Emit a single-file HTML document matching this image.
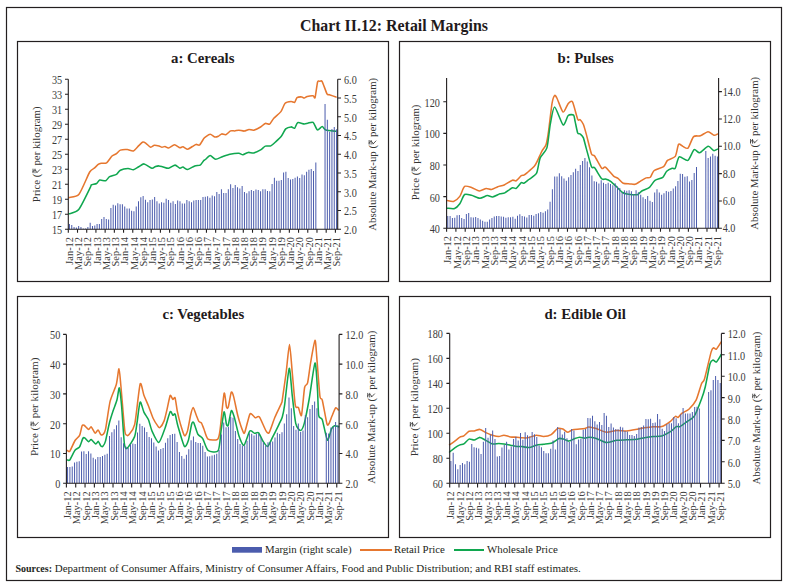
<!DOCTYPE html>
<html><head><meta charset="utf-8"><style>
html,body{margin:0;padding:0;background:#fff;}
body{width:787px;height:587px;overflow:hidden;position:relative;}
svg{position:absolute;left:0;top:0;}
</style></head><body>
<svg width="787" height="587" viewBox="0 0 787 587" font-family="'Liberation Serif', serif">

<rect x="6.5" y="7.5" width="775" height="573" fill="none" stroke="#231f20" stroke-width="1.2"/>
<text x="394" y="30.5" text-anchor="middle" font-size="15.9" font-weight="bold" fill="#1f1a1c">Chart II.12: Retail Margins</text>
<rect x="17.5" y="41.5" width="371" height="240" fill="none" stroke="#231f20" stroke-width="1.2"/>
<rect x="399.5" y="41.5" width="371" height="240" fill="none" stroke="#231f20" stroke-width="1.2"/>
<rect x="17.5" y="296.5" width="371" height="241" fill="none" stroke="#231f20" stroke-width="1.2"/>
<rect x="399.5" y="296.5" width="371" height="241" fill="none" stroke="#231f20" stroke-width="1.2"/>
<text x="202.8" y="62.9" text-anchor="middle" font-size="14.8" font-weight="bold" fill="#1f1a1c">a: Cereals</text>
<path d="M69.1 197.6C70.25 197.2 76.6 197.19 79 194.2C81.4 191.21 87.92 175.03 89.7 172C91.48 168.97 93.31 169.09 94.3 168.2C95.29 167.31 97.39 164.97 98.2 164.4C99.01 163.83 100.22 163.49 101.2 163.3C102.18 163.11 105.34 163.65 106.6 162.8C107.86 161.95 110.84 157.07 112 156C113.16 154.93 115.52 154.29 116.5 153.6C117.48 152.91 119.14 150.58 120.4 150.1C121.66 149.62 125.78 149.41 127.3 149.5C128.82 149.59 132.06 151.36 133.4 150.9C134.74 150.44 137.69 146.63 138.8 145.6C139.91 144.57 142.07 142.37 142.9 142.1C143.73 141.83 144.99 142.71 145.9 143.3C146.81 143.9 149.72 146.97 150.7 147.2C151.68 147.43 153.33 145.44 154.3 145.3C155.27 145.16 158.1 145.78 159 146C159.9 146.22 161.3 147.14 162 147.2C162.7 147.26 164.23 146.41 165 146.5C165.77 146.59 167.49 148.2 168.6 148C169.71 147.8 173.18 144.84 174.5 144.8C175.82 144.77 178.92 147.47 179.9 147.7C180.88 147.93 181.99 146.62 182.9 146.8C183.81 146.98 186.59 149.23 187.7 149.2C188.81 149.16 191.43 147.06 192.4 146.5C193.37 145.94 195.16 144.58 196 144.4C196.84 144.22 198.69 145.69 199.6 145C200.51 144.31 203.12 139.43 203.8 138.5C204.48 137.57 204.65 137.49 205.4 137C206.15 136.51 209.09 134.3 210.2 134.3C211.31 134.3 213.96 136.77 214.9 137C215.84 137.23 217.51 136.66 218.3 136.3C219.09 135.94 220.82 134.09 221.7 133.9C222.57 133.71 224.76 135.05 225.8 134.7C226.84 134.35 229.56 131.34 230.6 130.9C231.64 130.46 233.74 130.98 234.7 130.9C235.66 130.82 237.69 130.18 238.8 130.2C239.91 130.22 243.01 131.18 244.2 131.1C245.39 131.02 247.89 129.6 249 129.5C250.11 129.4 252.35 130.49 253.7 130.2C255.05 129.91 259.25 127.79 260.6 127C261.95 126.21 264.25 123.73 265.3 123.4C266.35 123.07 268.61 124.81 269.6 124.2C270.59 123.59 272.48 119.67 273.8 118.2C275.12 116.73 279.58 113.34 280.9 111.6C282.22 109.86 283.91 104.48 285.1 103.3C286.29 102.12 289.99 101.61 291.1 101.5C292.21 101.39 293.91 102.84 294.6 102.4C295.29 101.96 296.16 98.34 297 97.7C297.84 97.06 300.96 96.85 301.8 96.9C302.64 96.95 303.57 98.15 304.2 98.1C304.83 98.05 306.16 96.77 307.2 96.5C308.24 96.23 312.18 95.69 313.1 95.8C314.02 95.91 314.58 99.01 315.1 97.4C315.62 95.79 317.05 83.88 317.6 82C318.15 80.12 319.26 81.35 319.8 81.3C320.34 81.25 321.36 80.13 322.2 81.6C323.04 83.07 326.16 92.37 327 93.9C327.84 95.43 328.35 94.33 329.4 94.7C330.45 95.07 335.23 96.82 336 97.1" fill="none" stroke="#e6772f" stroke-width="1.55" stroke-linejoin="round" stroke-linecap="round"/>
<path d="M69.1 213.8C70.22 213.31 76.23 212.68 78.7 209.6C81.17 206.52 88.83 190.27 90.3 187.4C91.77 184.53 90.56 185.46 91.3 185C92.03 184.54 95.62 184.07 96.6 183.5C97.58 182.93 98.63 180.43 99.7 180.1C100.77 179.77 104.64 181.11 105.8 180.7C106.95 180.29 108.35 177.35 109.6 176.6C110.85 175.85 115.24 175.05 116.5 174.3C117.76 173.55 119.06 170.88 120.4 170.2C121.74 169.52 126.48 168.56 128 168.5C129.52 168.44 132.14 169.91 133.4 169.7C134.66 169.49 137.55 167.38 138.8 166.7C140.05 166.02 142.57 163.71 144.1 163.9C145.63 164.09 150.57 168 151.9 168.3C153.23 168.6 154.67 166.78 155.5 166.5C156.33 166.22 158.17 165.88 159 165.9C159.83 165.92 161.48 166.42 162.6 166.7C163.72 166.98 167.14 168.49 168.6 168.3C170.06 168.11 173.78 165.1 175.1 165.1C176.42 165.1 178.99 168.07 179.9 168.3C180.81 168.53 181.99 166.96 182.9 167.1C183.81 167.24 186.31 169.64 187.7 169.5C189.09 169.36 193.34 166.41 194.8 165.9C196.26 165.39 199.15 165.73 200.2 165.1C201.25 164.47 203.19 161.15 203.8 160.5C204.41 159.85 204.65 160.07 205.4 159.5C206.15 158.93 209.01 155.63 210.2 155.6C211.39 155.56 214.18 159.07 215.6 159.2C217.02 159.33 220.73 157.27 222.4 156.7C224.07 156.13 227.99 154.7 229.9 154.3C231.81 153.9 237.28 153.25 238.8 153.3C240.32 153.35 241.79 154.8 242.9 154.7C244.01 154.59 247.04 152.61 248.3 152.4C249.56 152.19 252.26 153.19 253.7 152.9C255.13 152.61 259.25 150.69 260.6 149.9C261.95 149.11 264.11 146.57 265.3 146.1C266.49 145.63 269.61 146.38 270.8 145.9C271.99 145.42 274.25 143.14 275.5 142C276.75 140.86 280.31 137.63 281.5 136.1C282.69 134.57 284.58 129.97 285.7 128.9C286.82 127.83 290.06 126.97 291.1 126.9C292.14 126.83 293.84 128.79 294.6 128.3C295.36 127.81 296.48 123.21 297.6 122.7C298.72 122.19 303.01 123.84 304.2 123.9C305.39 123.96 306.76 123.38 307.8 123.2C308.84 123.03 311.98 121.62 313.1 122.4C314.22 123.18 316.34 129.41 317.4 129.9C318.46 130.39 321.22 126.58 322.2 126.6C323.18 126.62 324.19 129.55 325.8 130.1C327.41 130.65 334.81 131.16 336 131.3" fill="none" stroke="#10a74f" stroke-width="1.55" stroke-linejoin="round" stroke-linecap="round"/>
<path d="M68.95 229.3V224.1h1.0V229.3zM71.25 229.3V224.9h1.0V229.3zM73.56 229.3V227h1.0V229.3zM75.86 229.3V227.5h1.0V229.3zM78.16 229.3V226h1.0V229.3zM80.46 229.3V227h1.0V229.3zM82.77 229.3V228.6h1.0V229.3zM85.07 229.3V228.6h1.0V229.3zM87.37 229.3V227h1.0V229.3zM89.67 229.3V222.8h1.0V229.3zM91.98 229.3V226h1.0V229.3zM94.28 229.3V225.4h1.0V229.3zM96.58 229.3V224h1.0V229.3zM98.88 229.3V224h1.0V229.3zM101.19 229.3V219.1h1.0V229.3zM103.49 229.3V217h1.0V229.3zM105.79 229.3V219.1h1.0V229.3zM108.09 229.3V219.6h1.0V229.3zM110.4 229.3V208h1.0V229.3zM112.7 229.3V204.8h1.0V229.3zM115 229.3V205.4h1.0V229.3zM117.31 229.3V203.3h1.0V229.3zM119.61 229.3V204.3h1.0V229.3zM121.91 229.3V204.3h1.0V229.3zM124.21 229.3V206.4h1.0V229.3zM126.52 229.3V208.5h1.0V229.3zM128.82 229.3V208.5h1.0V229.3zM131.12 229.3V210.7h1.0V229.3zM133.42 229.3V211.2h1.0V229.3zM135.73 229.3V206.4h1.0V229.3zM138.03 229.3V201.2h1.0V229.3zM140.33 229.3V197.2h1.0V229.3zM142.63 229.3V195.9h1.0V229.3zM144.94 229.3V199.8h1.0V229.3zM147.24 229.3V202.2h1.0V229.3zM149.54 229.3V200.1h1.0V229.3zM151.84 229.3V199.4h1.0V229.3zM154.15 229.3V196.9h1.0V229.3zM156.45 229.3V201.2h1.0V229.3zM158.75 229.3V203.6h1.0V229.3zM161.05 229.3V202.2h1.0V229.3zM163.36 229.3V202.7h1.0V229.3zM165.66 229.3V198.7h1.0V229.3zM167.96 229.3V200.1h1.0V229.3zM170.26 229.3V202.7h1.0V229.3zM172.57 229.3V201.2h1.0V229.3zM174.87 229.3V204h1.0V229.3zM177.17 229.3V200.6h1.0V229.3zM179.47 229.3V201.2h1.0V229.3zM181.78 229.3V203.6h1.0V229.3zM184.08 229.3V203.6h1.0V229.3zM186.38 229.3V200.1h1.0V229.3zM188.68 229.3V201.2h1.0V229.3zM190.99 229.3V202.2h1.0V229.3zM193.29 229.3V200.4h1.0V229.3zM195.59 229.3V199.9h1.0V229.3zM197.89 229.3V200.1h1.0V229.3zM200.2 229.3V199.9h1.0V229.3zM202.5 229.3V196.9h1.0V229.3zM204.8 229.3V196.8h1.0V229.3zM207.11 229.3V196.2h1.0V229.3zM209.41 229.3V197.8h1.0V229.3zM211.71 229.3V195.6h1.0V229.3zM214.01 229.3V196.2h1.0V229.3zM216.32 229.3V192.1h1.0V229.3zM218.62 229.3V194.1h1.0V229.3zM220.92 229.3V189.2h1.0V229.3zM223.22 229.3V192.9h1.0V229.3zM225.53 229.3V192.9h1.0V229.3zM227.83 229.3V189.2h1.0V229.3zM230.13 229.3V184.3h1.0V229.3zM232.43 229.3V188h1.0V229.3zM234.74 229.3V185.1h1.0V229.3zM237.04 229.3V187.2h1.0V229.3zM239.34 229.3V188.4h1.0V229.3zM241.64 229.3V186h1.0V229.3zM243.95 229.3V192.1h1.0V229.3zM246.25 229.3V193.3h1.0V229.3zM248.55 229.3V191.3h1.0V229.3zM250.85 229.3V190h1.0V229.3zM253.16 229.3V190.9h1.0V229.3zM255.46 229.3V189.4h1.0V229.3zM257.76 229.3V190h1.0V229.3zM260.06 229.3V191.3h1.0V229.3zM262.37 229.3V189.2h1.0V229.3zM264.67 229.3V189.2h1.0V229.3zM266.97 229.3V190.9h1.0V229.3zM269.27 229.3V191.3h1.0V229.3zM271.58 229.3V184h1.0V229.3zM273.88 229.3V177.7h1.0V229.3zM276.18 229.3V180.7h1.0V229.3zM278.48 229.3V180.7h1.0V229.3zM280.79 229.3V180h1.0V229.3zM283.09 229.3V172.6h1.0V229.3zM285.39 229.3V171.7h1.0V229.3zM287.69 229.3V177.9h1.0V229.3zM290 229.3V179.6h1.0V229.3zM292.3 229.3V179.1h1.0V229.3zM294.6 229.3V177.7h1.0V229.3zM296.91 229.3V176.5h1.0V229.3zM299.21 229.3V177.9h1.0V229.3zM301.51 229.3V174.5h1.0V229.3zM303.81 229.3V175.2h1.0V229.3zM306.12 229.3V171.7h1.0V229.3zM308.42 229.3V169.8h1.0V229.3zM310.72 229.3V168.9h1.0V229.3zM313.02 229.3V171h1.0V229.3zM315.33 229.3V162.6h1.0V229.3zM324.54 229.3V103.9h1.0V229.3zM326.84 229.3V119.7h1.0V229.3zM329.14 229.3V131.7h1.0V229.3zM331.44 229.3V128.9h1.0V229.3zM333.75 229.3V126.9h1.0V229.3zM336.05 229.3V129.3h1.0V229.3z" fill="#4b5cad"/>
<path d="M68.3 79.3V229.3H337.7V79.3" fill="none" stroke="#231f20" stroke-width="1.1"/>
<text transform="translate(62.2 234.2) scale(0.88 1)" text-anchor="end" font-size="11.6" fill="#3a3a3a">15</text>
<text transform="translate(62.2 219.2) scale(0.88 1)" text-anchor="end" font-size="11.6" fill="#3a3a3a">17</text>
<text transform="translate(62.2 204.2) scale(0.88 1)" text-anchor="end" font-size="11.6" fill="#3a3a3a">19</text>
<text transform="translate(62.2 189.2) scale(0.88 1)" text-anchor="end" font-size="11.6" fill="#3a3a3a">21</text>
<text transform="translate(62.2 174.2) scale(0.88 1)" text-anchor="end" font-size="11.6" fill="#3a3a3a">23</text>
<text transform="translate(62.2 159.2) scale(0.88 1)" text-anchor="end" font-size="11.6" fill="#3a3a3a">25</text>
<text transform="translate(62.2 144.2) scale(0.88 1)" text-anchor="end" font-size="11.6" fill="#3a3a3a">27</text>
<text transform="translate(62.2 129.2) scale(0.88 1)" text-anchor="end" font-size="11.6" fill="#3a3a3a">29</text>
<text transform="translate(62.2 114.2) scale(0.88 1)" text-anchor="end" font-size="11.6" fill="#3a3a3a">31</text>
<text transform="translate(62.2 99.2) scale(0.88 1)" text-anchor="end" font-size="11.6" fill="#3a3a3a">33</text>
<text transform="translate(62.2 84.2) scale(0.88 1)" text-anchor="end" font-size="11.6" fill="#3a3a3a">35</text>
<text transform="translate(344 234.2) scale(0.88 1)" font-size="11.6" fill="#3a3a3a">2.0</text>
<text transform="translate(344 215.45) scale(0.88 1)" font-size="11.6" fill="#3a3a3a">2.5</text>
<text transform="translate(344 196.7) scale(0.88 1)" font-size="11.6" fill="#3a3a3a">3.0</text>
<text transform="translate(344 177.95) scale(0.88 1)" font-size="11.6" fill="#3a3a3a">3.5</text>
<text transform="translate(344 159.2) scale(0.88 1)" font-size="11.6" fill="#3a3a3a">4.0</text>
<text transform="translate(344 140.45) scale(0.88 1)" font-size="11.6" fill="#3a3a3a">4.5</text>
<text transform="translate(344 121.7) scale(0.88 1)" font-size="11.6" fill="#3a3a3a">5.0</text>
<text transform="translate(344 102.95) scale(0.88 1)" font-size="11.6" fill="#3a3a3a">5.5</text>
<text transform="translate(344 84.2) scale(0.88 1)" font-size="11.6" fill="#3a3a3a">6.0</text>
<path d="M65.0 229.3H68.3M65.0 214.3H68.3M65.0 199.3H68.3M65.0 184.3H68.3M65.0 169.3H68.3M65.0 154.3H68.3M65.0 139.3H68.3M65.0 124.3H68.3M65.0 109.3H68.3M65.0 94.3H68.3M65.0 79.3H68.3M337.7 229.3H341.0M337.7 210.55H341.0M337.7 191.8H341.0M337.7 173.05H341.0M337.7 154.3H341.0M337.7 135.55H341.0M337.7 116.8H341.0M337.7 98.05H341.0M337.7 79.3H341.0M68.3 229.3V232.8M77.51 229.3V232.8M86.72 229.3V232.8M95.93 229.3V232.8M105.14 229.3V232.8M114.35 229.3V232.8M123.56 229.3V232.8M132.77 229.3V232.8M141.98 229.3V232.8M151.19 229.3V232.8M160.4 229.3V232.8M169.61 229.3V232.8M178.82 229.3V232.8M188.03 229.3V232.8M197.24 229.3V232.8M206.45 229.3V232.8M215.66 229.3V232.8M224.87 229.3V232.8M234.08 229.3V232.8M243.29 229.3V232.8M252.51 229.3V232.8M261.72 229.3V232.8M270.93 229.3V232.8M280.14 229.3V232.8M289.35 229.3V232.8M298.56 229.3V232.8M307.77 229.3V232.8M316.98 229.3V232.8M326.19 229.3V232.8M335.4 229.3V232.8" stroke="#231f20" stroke-width="1.1" fill="none"/>
<text transform="translate(73.05 237) rotate(-90)" text-anchor="end" font-size="10.4" fill="#3a3a3a">Jan-12</text>
<text transform="translate(82.26 237) rotate(-90)" text-anchor="end" font-size="10.4" fill="#3a3a3a">May-12</text>
<text transform="translate(91.47 237) rotate(-90)" text-anchor="end" font-size="10.4" fill="#3a3a3a">Sep-12</text>
<text transform="translate(100.68 237) rotate(-90)" text-anchor="end" font-size="10.4" fill="#3a3a3a">Jan-13</text>
<text transform="translate(109.89 237) rotate(-90)" text-anchor="end" font-size="10.4" fill="#3a3a3a">May-13</text>
<text transform="translate(119.1 237) rotate(-90)" text-anchor="end" font-size="10.4" fill="#3a3a3a">Sep-13</text>
<text transform="translate(128.31 237) rotate(-90)" text-anchor="end" font-size="10.4" fill="#3a3a3a">Jan-14</text>
<text transform="translate(137.52 237) rotate(-90)" text-anchor="end" font-size="10.4" fill="#3a3a3a">May-14</text>
<text transform="translate(146.73 237) rotate(-90)" text-anchor="end" font-size="10.4" fill="#3a3a3a">Sep-14</text>
<text transform="translate(155.94 237) rotate(-90)" text-anchor="end" font-size="10.4" fill="#3a3a3a">Jan-15</text>
<text transform="translate(165.15 237) rotate(-90)" text-anchor="end" font-size="10.4" fill="#3a3a3a">May-15</text>
<text transform="translate(174.36 237) rotate(-90)" text-anchor="end" font-size="10.4" fill="#3a3a3a">Sep-15</text>
<text transform="translate(183.57 237) rotate(-90)" text-anchor="end" font-size="10.4" fill="#3a3a3a">Jan-16</text>
<text transform="translate(192.78 237) rotate(-90)" text-anchor="end" font-size="10.4" fill="#3a3a3a">May-16</text>
<text transform="translate(201.99 237) rotate(-90)" text-anchor="end" font-size="10.4" fill="#3a3a3a">Sep-16</text>
<text transform="translate(211.21 237) rotate(-90)" text-anchor="end" font-size="10.4" fill="#3a3a3a">Jan-17</text>
<text transform="translate(220.42 237) rotate(-90)" text-anchor="end" font-size="10.4" fill="#3a3a3a">May-17</text>
<text transform="translate(229.63 237) rotate(-90)" text-anchor="end" font-size="10.4" fill="#3a3a3a">Sep-17</text>
<text transform="translate(238.84 237) rotate(-90)" text-anchor="end" font-size="10.4" fill="#3a3a3a">Jan-18</text>
<text transform="translate(248.05 237) rotate(-90)" text-anchor="end" font-size="10.4" fill="#3a3a3a">May-18</text>
<text transform="translate(257.26 237) rotate(-90)" text-anchor="end" font-size="10.4" fill="#3a3a3a">Sep-18</text>
<text transform="translate(266.47 237) rotate(-90)" text-anchor="end" font-size="10.4" fill="#3a3a3a">Jan-19</text>
<text transform="translate(275.68 237) rotate(-90)" text-anchor="end" font-size="10.4" fill="#3a3a3a">May-19</text>
<text transform="translate(284.89 237) rotate(-90)" text-anchor="end" font-size="10.4" fill="#3a3a3a">Sep-19</text>
<text transform="translate(294.1 237) rotate(-90)" text-anchor="end" font-size="10.4" fill="#3a3a3a">Jan-20</text>
<text transform="translate(303.31 237) rotate(-90)" text-anchor="end" font-size="10.4" fill="#3a3a3a">May-20</text>
<text transform="translate(312.52 237) rotate(-90)" text-anchor="end" font-size="10.4" fill="#3a3a3a">Sep-20</text>
<text transform="translate(321.73 237) rotate(-90)" text-anchor="end" font-size="10.4" fill="#3a3a3a">Jan-21</text>
<text transform="translate(330.94 237) rotate(-90)" text-anchor="end" font-size="10.4" fill="#3a3a3a">May-21</text>
<text transform="translate(340.15 237) rotate(-90)" text-anchor="end" font-size="10.4" fill="#3a3a3a">Sep-21</text>
<g transform="translate(40.1 154.3) rotate(-90)"><text x="-47.83" y="0" font-size="10.8" fill="#333" xml:space="preserve">Price (</text><path d="M-18.91 -7.07L-14.38 -7.07M-18.91 -5.08L-14.38 -5.08M-17.94 -7.07C-15.03 -7.07 -15.03 -3.24 -18.48 -3.24L-15.03 0" fill="none" stroke="#333" stroke-width="0.81"/><text x="-13.95" y="0" font-size="10.8" fill="#333" xml:space="preserve"> per kilogram)</text></g>
<g transform="translate(376.2 154.3) rotate(-90)"><text x="-76.48" y="0" font-size="10.8" fill="#333" xml:space="preserve">Absolute Mark-up (</text><path d="M9.73 -7.07L14.27 -7.07M9.73 -5.08L14.27 -5.08M10.71 -7.07C13.62 -7.07 13.62 -3.24 10.17 -3.24L13.62 0" fill="none" stroke="#333" stroke-width="0.81"/><text x="14.7" y="0" font-size="10.8" fill="#333" xml:space="preserve"> per kilogram)</text></g>
<text x="585.6" y="62.9" text-anchor="middle" font-size="14.8" font-weight="bold" fill="#1f1a1c">b: Pulses</text>
<path d="M447.2 200.6C447.94 200.7 452.03 201.99 453.5 201.5C454.97 201.01 458.5 198.16 459.8 196.4C461.1 194.64 463.18 187.42 464.6 186.4C466.02 185.38 470.27 187.17 472 187.7C473.73 188.22 477.74 190.81 479.4 190.9C481.06 190.99 484.79 188.66 486.2 188.5C487.61 188.34 490.15 189.71 491.5 189.5C492.85 189.29 496.32 187.22 497.8 186.7C499.28 186.17 502.5 185.76 504.2 185C505.9 184.24 511 180.69 512.4 180.2C513.8 179.71 515.16 181.33 516.2 180.8C517.24 180.28 520.4 176.36 521.3 175.7C522.2 175.03 523.2 175.46 523.9 175.1C524.6 174.74 526.11 173.59 527.3 172.6C528.49 171.61 532.91 167.99 534.1 166.6C535.29 165.21 536.6 162.48 537.5 160.7C538.4 158.91 540.8 153.19 541.8 151.3C542.8 149.41 545.31 146.88 546.1 144.5C546.89 142.12 547.91 135.67 548.6 130.9C549.29 126.13 551.3 107.73 552 103.6C552.7 99.47 554 96.09 554.6 95.5C555.2 94.91 556.11 96.56 557.1 98.5C558.09 100.44 561.81 111.5 563.1 112.1C564.39 112.69 567.1 104.79 568.2 103.6C569.3 102.41 571.39 100.08 572.5 101.9C573.61 103.72 576.8 117.12 577.7 119.2C578.6 121.28 579.55 119.11 580.2 119.7C580.85 120.3 582.58 122.56 583.3 124.3C584.02 126.04 585.44 131.13 586.4 134.6C587.36 138.06 590.54 151.5 591.5 154C592.46 156.5 593.41 154.33 594.6 156C595.79 157.67 600.44 166.99 601.7 168.3C602.96 169.61 604.01 166.29 605.4 167.2C606.79 168.11 612.13 174.79 613.6 176.1C615.07 177.41 616.88 177.56 618 178.4C619.12 179.24 621.81 182.66 623.2 183.3C624.59 183.94 628.51 183.78 629.9 183.9C631.29 184.02 633.89 184.6 635.1 184.3C636.31 184 639 182.05 640.3 181.3C641.59 180.55 645.03 178.37 646.2 177.9C647.37 177.43 649.37 178.16 650.3 177.3C651.23 176.44 652.65 171.75 654.2 170.5C655.75 169.25 662.05 167.78 663.6 166.6C665.15 165.42 666.13 161.59 667.5 160.4C668.87 159.21 674 158.28 675.3 156.4C676.59 154.52 677.71 145.47 678.6 144.3C679.49 143.13 681.8 145.96 682.9 146.4C684 146.84 686.75 149.24 688 148.1C689.25 146.96 692.15 138.03 693.6 136.6C695.05 135.16 698.72 136.37 700.4 135.8C702.08 135.23 706.41 131.76 708 131.7C709.59 131.64 712.9 135.02 714 135.3C715.1 135.58 717 134.24 717.4 134.1" fill="none" stroke="#e6772f" stroke-width="1.55" stroke-linejoin="round" stroke-linecap="round"/>
<path d="M447.2 208.2C448.06 208.23 453.13 209.01 454.6 208.5C456.07 207.99 458.63 205.43 459.8 203.8C460.97 202.17 463.24 195.49 464.6 194.5C465.97 193.51 469.72 194.86 471.5 195.3C473.28 195.74 478.06 198.27 479.9 198.3C481.74 198.34 485.82 195.76 487.3 195.6C488.78 195.44 491.12 197.11 492.6 196.9C494.08 196.69 498.58 194.27 500 193.8C501.42 193.33 503.35 193.6 504.8 192.9C506.25 192.2 511.07 188.33 512.4 187.8C513.73 187.28 515.16 189 516.2 188.4C517.24 187.81 520.4 183.29 521.3 182.7C522.2 182.1 523.01 183.67 523.9 183.3C524.79 182.93 527.42 180.68 528.9 179.5C530.38 178.32 535.29 175.7 536.6 173.2C537.91 170.7 538.9 161.05 540.1 158.1C541.3 155.15 545.71 151.87 546.9 147.9C548.09 143.93 549.4 128.87 550.3 124.1C551.2 119.33 553.11 106.91 554.6 107C556.09 107.09 561.51 123.91 563.1 124.9C564.69 125.89 566.98 116.64 568.2 115.5C569.43 114.36 572.8 114.42 573.6 115.1C574.4 115.78 574.62 119.21 575.1 121.3C575.58 123.39 577.11 131.52 577.7 133C578.3 134.48 579.55 133.46 580.2 134C580.85 134.54 582.58 135.86 583.3 137.6C584.02 139.34 585.44 145.49 586.4 148.9C587.36 152.31 590.54 164.59 591.5 166.8C592.46 169.01 593.41 166.4 594.6 167.8C595.79 169.2 600.44 177.48 601.7 178.8C602.96 180.12 604.36 178.81 605.4 179.1C606.44 179.39 609.29 180.4 610.6 181.3C611.91 182.2 615.21 185.49 616.6 186.8C617.99 188.11 621.29 191.66 622.5 192.5C623.71 193.34 625.27 193.74 627 194C628.73 194.26 635.57 195.05 637.3 194.7C639.03 194.35 640.38 191.86 641.8 191C643.22 190.14 647.96 188.54 649.5 187.3C651.04 186.06 653.45 181.57 655 180.4C656.55 179.23 661.43 178.36 662.8 177.3C664.16 176.24 665.6 172.36 666.7 171.3C667.8 170.24 671.2 168.56 672.2 168.2C673.2 167.84 674.48 169.52 675.3 168.2C676.12 166.88 677.73 157.81 679.2 156.9C680.67 155.99 686.16 161.24 687.9 160.4C689.64 159.56 692.74 150.59 694.1 149.7C695.47 148.81 697.96 153.2 699.6 152.8C701.25 152.4 706.56 146.56 708.2 146.3C709.85 146.04 712.6 150.27 713.7 150.6C714.8 150.93 717.14 149.28 717.6 149.1" fill="none" stroke="#10a74f" stroke-width="1.55" stroke-linejoin="round" stroke-linecap="round"/>
<path d="M447.26 228.3V215.9h1.0V228.3zM449.59 228.3V216.1h1.0V228.3zM451.91 228.3V218h1.0V228.3zM454.24 228.3V217.7h1.0V228.3zM456.56 228.3V215.2h1.0V228.3zM458.89 228.3V214.9h1.0V228.3zM461.21 228.3V218h1.0V228.3zM463.54 228.3V219.1h1.0V228.3zM465.86 228.3V214.1h1.0V228.3zM468.19 228.3V213.1h1.0V228.3zM470.51 228.3V217.3h1.0V228.3zM472.84 228.3V217.5h1.0V228.3zM475.16 228.3V217h1.0V228.3zM477.48 228.3V218h1.0V228.3zM479.81 228.3V219.4h1.0V228.3zM482.13 228.3V220.7h1.0V228.3zM484.46 228.3V221.7h1.0V228.3zM486.78 228.3V221.7h1.0V228.3zM489.11 228.3V219.6h1.0V228.3zM491.43 228.3V218h1.0V228.3zM493.76 228.3V216.5h1.0V228.3zM496.08 228.3V215.9h1.0V228.3zM498.41 228.3V215.9h1.0V228.3zM500.73 228.3V216.5h1.0V228.3zM503.06 228.3V216.7h1.0V228.3zM505.38 228.3V217.7h1.0V228.3zM507.71 228.3V217.3h1.0V228.3zM510.03 228.3V217.3h1.0V228.3zM512.36 228.3V216.8h1.0V228.3zM514.68 228.3V218.8h1.0V228.3zM517.01 228.3V215.8h1.0V228.3zM519.33 228.3V214.2h1.0V228.3zM521.66 228.3V216.1h1.0V228.3zM523.98 228.3V216.4h1.0V228.3zM526.31 228.3V217.6h1.0V228.3zM528.63 228.3V214.9h1.0V228.3zM530.95 228.3V214.9h1.0V228.3zM533.28 228.3V215.8h1.0V228.3zM535.6 228.3V213.9h1.0V228.3zM537.93 228.3V213.3h1.0V228.3zM540.25 228.3V212.1h1.0V228.3zM542.58 228.3V212.7h1.0V228.3zM544.9 228.3V211.2h1.0V228.3zM547.23 228.3V209.6h1.0V228.3zM549.55 228.3V201.7h1.0V228.3zM551.88 228.3V189.2h1.0V228.3zM554.2 228.3V176.6h1.0V228.3zM556.53 228.3V176.6h1.0V228.3zM558.85 228.3V173.2h1.0V228.3zM561.18 228.3V176.2h1.0V228.3zM563.5 228.3V178.4h1.0V228.3zM565.83 228.3V180.8h1.0V228.3zM568.15 228.3V177.2h1.0V228.3zM570.48 228.3V175h1.0V228.3zM572.8 228.3V172.3h1.0V228.3zM575.13 228.3V168.8h1.0V228.3zM577.45 228.3V171h1.0V228.3zM579.78 228.3V165h1.0V228.3zM582.1 228.3V161h1.0V228.3zM584.42 228.3V158h1.0V228.3zM586.75 228.3V161.6h1.0V228.3zM589.07 228.3V167.2h1.0V228.3zM591.4 228.3V175.4h1.0V228.3zM593.72 228.3V181.3h1.0V228.3zM596.05 228.3V181.8h1.0V228.3zM598.37 228.3V183.6h1.0V228.3zM600.7 228.3V180.3h1.0V228.3zM603.02 228.3V182.8h1.0V228.3zM605.35 228.3V183.9h1.0V228.3zM607.67 228.3V182.8h1.0V228.3zM610 228.3V183.9h1.0V228.3zM612.32 228.3V185.3h1.0V228.3zM614.65 228.3V183.3h1.0V228.3zM616.97 228.3V186.5h1.0V228.3zM619.3 228.3V188h1.0V228.3zM621.62 228.3V192.5h1.0V228.3zM623.95 228.3V190.2h1.0V228.3zM626.27 228.3V190.7h1.0V228.3zM628.6 228.3V190.2h1.0V228.3zM630.92 228.3V191.3h1.0V228.3zM633.25 228.3V194h1.0V228.3zM635.57 228.3V190.2h1.0V228.3zM637.89 228.3V192.2h1.0V228.3zM640.22 228.3V194.7h1.0V228.3zM642.54 228.3V197.2h1.0V228.3zM644.87 228.3V198.9h1.0V228.3zM647.19 228.3V196.1h1.0V228.3zM649.52 228.3V200.8h1.0V228.3zM651.84 228.3V201.9h1.0V228.3zM654.17 228.3V192.5h1.0V228.3zM656.49 228.3V189.3h1.0V228.3zM658.82 228.3V192.5h1.0V228.3zM661.14 228.3V194.8h1.0V228.3zM663.47 228.3V193.2h1.0V228.3zM665.79 228.3V190.9h1.0V228.3zM668.12 228.3V191.7h1.0V228.3zM670.44 228.3V190.9h1.0V228.3zM672.77 228.3V188.6h1.0V228.3zM675.09 228.3V186.2h1.0V228.3zM677.42 228.3V181h1.0V228.3zM679.74 228.3V173.7h1.0V228.3zM682.07 228.3V174.1h1.0V228.3zM684.39 228.3V176.8h1.0V228.3zM686.72 228.3V176.3h1.0V228.3zM689.04 228.3V181.5h1.0V228.3zM691.36 228.3V179.9h1.0V228.3zM693.69 228.3V172.9h1.0V228.3zM696.01 228.3V166.9h1.0V228.3zM705.31 228.3V151h1.0V228.3zM707.64 228.3V158h1.0V228.3zM709.96 228.3V156.4h1.0V228.3zM712.29 228.3V153.8h1.0V228.3zM714.61 228.3V155.7h1.0V228.3zM716.94 228.3V156.4h1.0V228.3z" fill="#4b5cad"/>
<path d="M446.6 78.0V228.3H718.6V78.0" fill="none" stroke="#231f20" stroke-width="1.1"/>
<text transform="translate(439.9 233.2) scale(0.88 1)" text-anchor="end" font-size="11.6" fill="#3a3a3a">40</text>
<text transform="translate(439.9 201.56) scale(0.88 1)" text-anchor="end" font-size="11.6" fill="#3a3a3a">60</text>
<text transform="translate(439.9 169.92) scale(0.88 1)" text-anchor="end" font-size="11.6" fill="#3a3a3a">80</text>
<text transform="translate(439.9 138.27) scale(0.88 1)" text-anchor="end" font-size="11.6" fill="#3a3a3a">100</text>
<text transform="translate(439.9 106.63) scale(0.88 1)" text-anchor="end" font-size="11.6" fill="#3a3a3a">120</text>
<text transform="translate(722.7 232.3) scale(0.88 1)" font-size="11.6" fill="#3a3a3a">4.0</text>
<text transform="translate(722.7 204.97) scale(0.88 1)" font-size="11.6" fill="#3a3a3a">6.0</text>
<text transform="translate(722.7 177.65) scale(0.88 1)" font-size="11.6" fill="#3a3a3a">8.0</text>
<text transform="translate(722.7 150.32) scale(0.88 1)" font-size="11.6" fill="#3a3a3a">10.0</text>
<text transform="translate(722.7 122.99) scale(0.88 1)" font-size="11.6" fill="#3a3a3a">12.0</text>
<text transform="translate(722.7 95.66) scale(0.88 1)" font-size="11.6" fill="#3a3a3a">14.0</text>
<path d="M443.3 228.3H446.6M443.3 196.66H446.6M443.3 165.02H446.6M443.3 133.37H446.6M443.3 101.73H446.6M718.6 228.3H721.9M718.6 200.97H721.9M718.6 173.65H721.9M718.6 146.32H721.9M718.6 118.99H721.9M718.6 91.66H721.9M446.6 228.3V231.8M455.9 228.3V231.8M465.2 228.3V231.8M474.5 228.3V231.8M483.8 228.3V231.8M493.1 228.3V231.8M502.39 228.3V231.8M511.69 228.3V231.8M520.99 228.3V231.8M530.29 228.3V231.8M539.59 228.3V231.8M548.89 228.3V231.8M558.19 228.3V231.8M567.49 228.3V231.8M576.79 228.3V231.8M586.09 228.3V231.8M595.39 228.3V231.8M604.69 228.3V231.8M613.98 228.3V231.8M623.28 228.3V231.8M632.58 228.3V231.8M641.88 228.3V231.8M651.18 228.3V231.8M660.48 228.3V231.8M669.78 228.3V231.8M679.08 228.3V231.8M688.38 228.3V231.8M697.68 228.3V231.8M706.98 228.3V231.8M716.28 228.3V231.8" stroke="#231f20" stroke-width="1.1" fill="none"/>
<text transform="translate(451.36 236) rotate(-90)" text-anchor="end" font-size="10.4" fill="#3a3a3a">Jan-12</text>
<text transform="translate(460.66 236) rotate(-90)" text-anchor="end" font-size="10.4" fill="#3a3a3a">May-12</text>
<text transform="translate(469.96 236) rotate(-90)" text-anchor="end" font-size="10.4" fill="#3a3a3a">Sep-12</text>
<text transform="translate(479.26 236) rotate(-90)" text-anchor="end" font-size="10.4" fill="#3a3a3a">Jan-13</text>
<text transform="translate(488.56 236) rotate(-90)" text-anchor="end" font-size="10.4" fill="#3a3a3a">May-13</text>
<text transform="translate(497.86 236) rotate(-90)" text-anchor="end" font-size="10.4" fill="#3a3a3a">Sep-13</text>
<text transform="translate(507.16 236) rotate(-90)" text-anchor="end" font-size="10.4" fill="#3a3a3a">Jan-14</text>
<text transform="translate(516.46 236) rotate(-90)" text-anchor="end" font-size="10.4" fill="#3a3a3a">May-14</text>
<text transform="translate(525.76 236) rotate(-90)" text-anchor="end" font-size="10.4" fill="#3a3a3a">Sep-14</text>
<text transform="translate(535.05 236) rotate(-90)" text-anchor="end" font-size="10.4" fill="#3a3a3a">Jan-15</text>
<text transform="translate(544.35 236) rotate(-90)" text-anchor="end" font-size="10.4" fill="#3a3a3a">May-15</text>
<text transform="translate(553.65 236) rotate(-90)" text-anchor="end" font-size="10.4" fill="#3a3a3a">Sep-15</text>
<text transform="translate(562.95 236) rotate(-90)" text-anchor="end" font-size="10.4" fill="#3a3a3a">Jan-16</text>
<text transform="translate(572.25 236) rotate(-90)" text-anchor="end" font-size="10.4" fill="#3a3a3a">May-16</text>
<text transform="translate(581.55 236) rotate(-90)" text-anchor="end" font-size="10.4" fill="#3a3a3a">Sep-16</text>
<text transform="translate(590.85 236) rotate(-90)" text-anchor="end" font-size="10.4" fill="#3a3a3a">Jan-17</text>
<text transform="translate(600.15 236) rotate(-90)" text-anchor="end" font-size="10.4" fill="#3a3a3a">May-17</text>
<text transform="translate(609.45 236) rotate(-90)" text-anchor="end" font-size="10.4" fill="#3a3a3a">Sep-17</text>
<text transform="translate(618.75 236) rotate(-90)" text-anchor="end" font-size="10.4" fill="#3a3a3a">Jan-18</text>
<text transform="translate(628.05 236) rotate(-90)" text-anchor="end" font-size="10.4" fill="#3a3a3a">May-18</text>
<text transform="translate(637.35 236) rotate(-90)" text-anchor="end" font-size="10.4" fill="#3a3a3a">Sep-18</text>
<text transform="translate(646.64 236) rotate(-90)" text-anchor="end" font-size="10.4" fill="#3a3a3a">Jan-19</text>
<text transform="translate(655.94 236) rotate(-90)" text-anchor="end" font-size="10.4" fill="#3a3a3a">May-19</text>
<text transform="translate(665.24 236) rotate(-90)" text-anchor="end" font-size="10.4" fill="#3a3a3a">Sep-19</text>
<text transform="translate(674.54 236) rotate(-90)" text-anchor="end" font-size="10.4" fill="#3a3a3a">Jan-20</text>
<text transform="translate(683.84 236) rotate(-90)" text-anchor="end" font-size="10.4" fill="#3a3a3a">May-20</text>
<text transform="translate(693.14 236) rotate(-90)" text-anchor="end" font-size="10.4" fill="#3a3a3a">Sep-20</text>
<text transform="translate(702.44 236) rotate(-90)" text-anchor="end" font-size="10.4" fill="#3a3a3a">Jan-21</text>
<text transform="translate(711.74 236) rotate(-90)" text-anchor="end" font-size="10.4" fill="#3a3a3a">May-21</text>
<text transform="translate(721.04 236) rotate(-90)" text-anchor="end" font-size="10.4" fill="#3a3a3a">Sep-21</text>
<g transform="translate(419.2 152.4) rotate(-90)"><text x="-47.83" y="0" font-size="10.8" fill="#333" xml:space="preserve">Price (</text><path d="M-18.91 -7.07L-14.38 -7.07M-18.91 -5.08L-14.38 -5.08M-17.94 -7.07C-15.03 -7.07 -15.03 -3.24 -18.48 -3.24L-15.03 0" fill="none" stroke="#333" stroke-width="0.81"/><text x="-13.95" y="0" font-size="10.8" fill="#333" xml:space="preserve"> per kilogram)</text></g>
<g transform="translate(757.6 153.3) rotate(-90)"><text x="-76.48" y="0" font-size="10.8" fill="#333" xml:space="preserve">Absolute Mark-up (</text><path d="M9.73 -7.07L14.27 -7.07M9.73 -5.08L14.27 -5.08M10.71 -7.07C13.62 -7.07 13.62 -3.24 10.17 -3.24L13.62 0" fill="none" stroke="#333" stroke-width="0.81"/><text x="14.7" y="0" font-size="10.8" fill="#333" xml:space="preserve"> per kilogram)</text></g>
<text x="203.3" y="318.6" text-anchor="middle" font-size="14.8" font-weight="bold" fill="#1f1a1c">c: Vegetables</text>
<path d="M67.2 450.4C67.5 450.49 68.89 452.35 69.8 451.2C70.71 450.05 73.86 442.36 75 440.5C76.14 438.64 78.77 437.01 79.6 435.3C80.43 433.59 81.57 426.97 82.1 425.8C82.62 424.63 83.34 424.88 84.1 425.3C84.86 425.72 87.77 429.22 88.6 429.4C89.43 429.57 90.44 426.37 91.2 426.8C91.96 427.23 94.31 432.72 95.1 433.1C95.89 433.49 97.32 429.93 98 430.1C98.68 430.28 100.33 434.08 100.9 434.6C101.47 435.12 102.36 435.21 102.9 434.6C103.44 433.99 104.66 433.27 105.5 429.4C106.34 425.53 108.84 406.64 110.1 401.4C111.36 396.16 115.26 388.3 116.3 384.5C117.34 380.7 118.46 368.62 119 368.8C119.54 368.98 120.23 378.86 120.9 386C121.57 393.14 124.04 424.27 124.7 430C125.36 435.73 126.12 434.54 126.6 435.1C127.08 435.66 127.86 436.05 128.8 434.8C129.75 433.55 133.38 430.3 134.7 424.4C136.02 418.5 139.03 387.61 140.1 384.2C141.17 380.79 142.92 392.66 143.9 395.2C144.88 397.74 147.43 403.31 148.5 406C149.57 408.69 152.03 415.98 153.1 418.3C154.17 420.62 156.89 424.83 157.7 425.9C158.5 426.97 159.25 428.08 160 427.5C160.75 426.92 163.26 423.1 164.1 420.9C164.94 418.69 166.49 411.56 167.2 408.6C167.91 405.64 169.55 396.57 170.2 395.5C170.85 394.43 172.23 399.12 172.8 399.4C173.37 399.68 174.56 396.46 175.1 397.9C175.64 399.33 176.78 408.67 177.4 411.7C178.02 414.73 179.57 421.1 180.4 423.9C181.23 426.7 183.66 434.92 184.5 435.7C185.34 436.48 186.88 433.05 187.6 430.6C188.32 428.15 190.05 417.38 190.7 414.7C191.35 412.02 192.55 407.53 193.2 407.6C193.85 407.67 195.65 413.69 196.3 415.3C196.95 416.91 198.21 420.51 198.8 421.4C199.4 422.29 200.81 422.01 201.4 422.9C202 423.79 203.13 427.11 203.9 429C204.67 430.89 206.4 437.9 208 439.1C209.6 440.3 216.2 440.31 217.6 439.3C219 438.29 219.24 435.75 220 430.4C220.76 425.04 223.34 396.12 224.1 393.4C224.86 390.68 226.01 405.5 226.5 407.1C226.99 408.7 227.74 408.84 228.3 407.1C228.86 405.36 230.67 393.39 231.3 392.2C231.93 391.01 232.93 394.12 233.7 396.9C234.47 399.68 236.78 411.88 237.9 416C239.02 420.12 242.47 430.38 243.3 432.2C244.13 434.02 244.24 433.69 245 431.6C245.76 429.51 248.88 416.2 249.8 414.3C250.72 412.4 252.26 414.89 252.9 415.3C253.54 415.71 254.54 417.6 255.3 417.8C256.06 418 258.15 415.47 259.4 417C260.65 418.53 264.86 429.09 266 430.9C267.14 432.71 268.15 434.12 269.2 432.5C270.25 430.88 273.56 420.43 275 417C276.44 413.57 280.65 405.11 281.5 403.1C282.35 401.09 281.76 403.31 282.3 399.8C282.84 396.29 285.26 379.44 286.1 373C286.94 366.56 288.78 344.6 289.5 344.6C290.22 344.6 291.62 365.93 292.3 373C292.98 380.07 294.59 401.18 295.3 405.2C296.01 409.22 297.68 406.33 298.4 407.5C299.12 408.67 300.78 417.53 301.5 415.2C302.22 412.87 303.89 391.27 304.6 387.5C305.31 383.73 306.89 385.85 307.6 382.9C308.31 379.95 309.84 367.16 310.7 362.2C311.56 357.24 314.29 340.94 315 340.4C315.71 339.86 316.23 351.11 316.8 357.6C317.37 364.09 319.26 391.03 319.9 396C320.54 400.97 321.48 396.97 322.3 400.2C323.12 403.43 326.13 420.96 326.9 423.7C327.67 426.44 328.3 424.6 328.9 423.7C329.5 422.8 331.22 417.84 332 416C332.78 414.16 334.87 408.6 335.6 407.9C336.34 407.2 337.99 409.75 338.3 410" fill="none" stroke="#e6772f" stroke-width="1.55" stroke-linejoin="round" stroke-linecap="round"/>
<path d="M67.2 459.9C67.5 459.9 68.89 461.03 69.8 459.9C70.71 458.77 73.86 451.72 75 450.2C76.14 448.68 78.69 448.26 79.6 446.9C80.51 445.53 82.2 439.55 82.8 438.5C83.39 437.45 84.02 437.53 84.7 437.9C85.38 438.27 87.84 441.51 88.6 441.7C89.36 441.89 90.37 439.23 91.2 439.5C92.03 439.77 94.87 443.78 95.7 444C96.53 444.22 97.69 441.17 98.3 441.4C98.91 441.63 100.36 445.43 100.9 446C101.44 446.57 102.36 446.87 102.9 446.3C103.44 445.73 104.74 443.82 105.5 441.1C106.26 438.38 108.5 426.56 109.4 423C110.3 419.44 112.31 413.31 113.2 410.6C114.09 407.89 116.29 402.45 117 399.8C117.71 397.15 118.76 387.18 119.3 387.9C119.84 388.62 121 399.47 121.6 406C122.19 412.53 123.73 439 124.4 443.9C125.07 448.8 126.11 448.85 127.3 448C128.49 447.15 133.47 439.53 134.6 436.6C135.73 433.67 136.36 426.92 137 422.9C137.64 418.88 139.29 403.36 140.1 402.1C140.91 400.84 142.92 410.04 143.9 412.1C144.88 414.17 147.56 417.6 148.5 419.8C149.44 422 150.8 428.36 152 431C153.2 433.64 157.27 442.75 158.8 442.4C160.33 442.05 163.77 431.58 165.1 428C166.43 424.42 169.3 413.18 170.2 411.7C171.1 410.22 172.23 415.01 172.8 415.3C173.37 415.59 174.5 412.95 175.1 414.2C175.69 415.45 176.81 422.24 177.9 426C178.99 429.76 183.18 444.74 184.4 446.4C185.62 448.06 187.55 442.82 188.4 440.2C189.25 437.57 191.08 425.94 191.7 423.9C192.32 421.86 192.99 421.5 193.7 422.7C194.41 423.9 196.96 432.57 197.8 434.2C198.64 435.83 200.29 436.13 200.9 436.7C201.51 437.27 202.17 437.51 203 439.1C203.83 440.69 206.23 448.95 208 450.3C209.77 451.65 216.66 453.09 218.2 450.7C219.74 448.31 220.51 434.33 221.2 429.8C221.89 425.27 223.48 412.53 224.1 411.9C224.72 411.27 226.01 422.87 226.5 424.4C226.99 425.93 227.74 426.6 228.3 425C228.86 423.4 230.6 411.61 231.3 410.7C232 409.79 233.39 414.21 234.3 417.2C235.21 420.19 237.98 433.02 239.1 436.3C240.22 439.58 242.65 445.92 243.9 445.3C245.15 444.68 248.56 432.4 249.8 431C251.04 429.6 253.47 433.09 254.5 433.3C255.53 433.51 257.64 431.94 258.6 432.8C259.56 433.66 261.65 439.11 262.7 440.7C263.75 442.29 266.46 446.78 267.6 446.4C268.74 446.01 271.17 439.98 272.5 437.4C273.83 434.82 277.86 426.68 279 424.3C280.14 421.92 281.65 419.23 282.3 417C282.95 414.77 283.8 410.87 284.6 405.2C285.41 399.53 288.3 369.47 289.2 368.4C290.1 367.33 291.53 389.56 292.3 396C293.07 402.44 294.86 419.58 295.8 423.6C296.75 427.62 299.42 430.5 300.4 430.5C301.38 430.5 303.17 427.28 304.2 423.6C305.23 419.93 307.94 406.07 309.2 399C310.46 391.93 314.03 364.05 315 363C315.97 361.95 317.07 383.86 317.5 390C317.93 396.14 318.14 412.14 318.7 415.6C319.26 419.06 321.29 416.84 322.3 419.7C323.31 422.56 326.33 439.03 327.4 440.1C328.47 441.17 330.67 430.57 331.5 428.9C332.33 427.23 333.67 426.05 334.5 425.8C335.33 425.56 338.12 426.68 338.6 426.8" fill="none" stroke="#10a74f" stroke-width="1.55" stroke-linejoin="round" stroke-linecap="round"/>
<path d="M67.07 483.2V467h1.0V483.2zM69.4 483.2V467h1.0V483.2zM71.73 483.2V466.4h1.0V483.2zM74.06 483.2V462.5h1.0V483.2zM76.39 483.2V461.8h1.0V483.2zM78.72 483.2V461.2h1.0V483.2zM81.05 483.2V451.5h1.0V483.2zM83.38 483.2V451.2h1.0V483.2zM85.71 483.2V454.1h1.0V483.2zM88.04 483.2V451.2h1.0V483.2zM90.37 483.2V453.4h1.0V483.2zM92.7 483.2V457.7h1.0V483.2zM95.03 483.2V459.2h1.0V483.2zM97.37 483.2V456.9h1.0V483.2zM99.7 483.2V456.9h1.0V483.2zM102.03 483.2V456h1.0V483.2zM104.36 483.2V454.7h1.0V483.2zM106.69 483.2V453.8h1.0V483.2zM109.02 483.2V435.9h1.0V483.2zM111.35 483.2V432.3h1.0V483.2zM113.68 483.2V429.2h1.0V483.2zM116.01 483.2V425.3h1.0V483.2zM118.34 483.2V420.6h1.0V483.2zM120.67 483.2V437.3h1.0V483.2zM123 483.2V443.2h1.0V483.2zM125.33 483.2V446.5h1.0V483.2zM127.67 483.2V448h1.0V483.2zM130 483.2V444.6h1.0V483.2zM132.33 483.2V443.6h1.0V483.2zM134.66 483.2V443.9h1.0V483.2zM136.99 483.2V432.5h1.0V483.2zM139.32 483.2V423.7h1.0V483.2zM141.65 483.2V426h1.0V483.2zM143.98 483.2V427.5h1.0V483.2zM146.31 483.2V431.9h1.0V483.2zM148.64 483.2V436.9h1.0V483.2zM150.97 483.2V438.3h1.0V483.2zM153.3 483.2V442.4h1.0V483.2zM155.63 483.2V446.5h1.0V483.2zM157.97 483.2V450.5h1.0V483.2zM160.3 483.2V449h1.0V483.2zM162.63 483.2V448h1.0V483.2zM164.96 483.2V442.7h1.0V483.2zM167.29 483.2V438.3h1.0V483.2zM169.62 483.2V435.1h1.0V483.2zM171.95 483.2V434h1.0V483.2zM174.28 483.2V433.7h1.0V483.2zM176.61 483.2V442h1.0V483.2zM178.94 483.2V452h1.0V483.2zM181.27 483.2V456h1.0V483.2zM183.6 483.2V458.8h1.0V483.2zM185.93 483.2V454.8h1.0V483.2zM188.27 483.2V449.2h1.0V483.2zM190.6 483.2V440.2h1.0V483.2zM192.93 483.2V436.6h1.0V483.2zM195.26 483.2V441.9h1.0V483.2zM197.59 483.2V443h1.0V483.2zM199.92 483.2V443h1.0V483.2zM202.25 483.2V445.8h1.0V483.2zM204.58 483.2V452h1.0V483.2zM206.91 483.2V456.5h1.0V483.2zM209.24 483.2V456.2h1.0V483.2zM211.57 483.2V455.4h1.0V483.2zM213.9 483.2V454.8h1.0V483.2zM216.23 483.2V453.7h1.0V483.2zM218.57 483.2V450.1h1.0V483.2zM220.9 483.2V434.6h1.0V483.2zM223.23 483.2V422.5h1.0V483.2zM225.56 483.2V427.3h1.0V483.2zM227.89 483.2V426.7h1.0V483.2zM230.22 483.2V417h1.0V483.2zM232.55 483.2V417.8h1.0V483.2zM234.88 483.2V430.9h1.0V483.2zM237.21 483.2V439h1.0V483.2zM239.54 483.2V443.9h1.0V483.2zM241.87 483.2V445.6h1.0V483.2zM244.2 483.2V445.6h1.0V483.2zM246.53 483.2V440.7h1.0V483.2zM248.87 483.2V433.3h1.0V483.2zM251.2 483.2V433.8h1.0V483.2zM253.53 483.2V435.4h1.0V483.2zM255.86 483.2V434.1h1.0V483.2zM258.19 483.2V434.1h1.0V483.2zM260.52 483.2V437.4h1.0V483.2zM262.85 483.2V442.3h1.0V483.2zM265.18 483.2V445.6h1.0V483.2zM267.51 483.2V442.3h1.0V483.2zM269.84 483.2V442.3h1.0V483.2zM272.17 483.2V441.5h1.0V483.2zM274.5 483.2V437.4h1.0V483.2zM276.83 483.2V432.8h1.0V483.2zM279.17 483.2V434.1h1.0V483.2zM281.5 483.2V432.2h1.0V483.2zM283.83 483.2V423.5h1.0V483.2zM286.16 483.2V414.3h1.0V483.2zM288.49 483.2V397.5h1.0V483.2zM290.82 483.2V408.3h1.0V483.2zM293.15 483.2V425.9h1.0V483.2zM295.48 483.2V429.8h1.0V483.2zM297.81 483.2V423.6h1.0V483.2zM300.14 483.2V432.1h1.0V483.2zM302.47 483.2V430.5h1.0V483.2zM304.8 483.2V415.2h1.0V483.2zM307.13 483.2V417.2h1.0V483.2zM309.47 483.2V409h1.0V483.2zM311.8 483.2V404.9h1.0V483.2zM314.13 483.2V401.4h1.0V483.2zM316.46 483.2V408.3h1.0V483.2zM325.78 483.2V432.8h1.0V483.2zM328.11 483.2V433.6h1.0V483.2zM330.44 483.2V427.5h1.0V483.2zM332.77 483.2V426.7h1.0V483.2zM335.1 483.2V422.1h1.0V483.2zM337.43 483.2V425.2h1.0V483.2z" fill="#4b5cad"/>
<path d="M66.4 334.4V483.2H339.1V334.4" fill="none" stroke="#231f20" stroke-width="1.1"/>
<text transform="translate(60.3 488.1) scale(0.88 1)" text-anchor="end" font-size="11.6" fill="#3a3a3a">0</text>
<text transform="translate(60.3 458.34) scale(0.88 1)" text-anchor="end" font-size="11.6" fill="#3a3a3a">10</text>
<text transform="translate(60.3 428.58) scale(0.88 1)" text-anchor="end" font-size="11.6" fill="#3a3a3a">20</text>
<text transform="translate(60.3 398.82) scale(0.88 1)" text-anchor="end" font-size="11.6" fill="#3a3a3a">30</text>
<text transform="translate(60.3 369.06) scale(0.88 1)" text-anchor="end" font-size="11.6" fill="#3a3a3a">40</text>
<text transform="translate(60.3 339.3) scale(0.88 1)" text-anchor="end" font-size="11.6" fill="#3a3a3a">50</text>
<text transform="translate(345.4 488.1) scale(0.88 1)" font-size="11.6" fill="#3a3a3a">2.0</text>
<text transform="translate(345.4 458.34) scale(0.88 1)" font-size="11.6" fill="#3a3a3a">4.0</text>
<text transform="translate(345.4 428.58) scale(0.88 1)" font-size="11.6" fill="#3a3a3a">6.0</text>
<text transform="translate(345.4 398.82) scale(0.88 1)" font-size="11.6" fill="#3a3a3a">8.0</text>
<text transform="translate(345.4 369.06) scale(0.88 1)" font-size="11.6" fill="#3a3a3a">10.0</text>
<text transform="translate(345.4 339.3) scale(0.88 1)" font-size="11.6" fill="#3a3a3a">12.0</text>
<path d="M63.10000000000001 483.2H66.4M63.10000000000001 453.44H66.4M63.10000000000001 423.68H66.4M63.10000000000001 393.92H66.4M63.10000000000001 364.16H66.4M63.10000000000001 334.4H66.4M339.1 483.2H342.40000000000003M339.1 453.44H342.40000000000003M339.1 423.68H342.40000000000003M339.1 393.92H342.40000000000003M339.1 364.16H342.40000000000003M339.1 334.4H342.40000000000003M66.4 483.2V487.5M75.72 483.2V487.5M85.05 483.2V487.5M94.37 483.2V487.5M103.69 483.2V487.5M113.02 483.2V487.5M122.34 483.2V487.5M131.66 483.2V487.5M140.98 483.2V487.5M150.31 483.2V487.5M159.63 483.2V487.5M168.95 483.2V487.5M178.28 483.2V487.5M187.6 483.2V487.5M196.92 483.2V487.5M206.25 483.2V487.5M215.57 483.2V487.5M224.89 483.2V487.5M234.22 483.2V487.5M243.54 483.2V487.5M252.86 483.2V487.5M262.18 483.2V487.5M271.51 483.2V487.5M280.83 483.2V487.5M290.15 483.2V487.5M299.48 483.2V487.5M308.8 483.2V487.5M318.12 483.2V487.5M327.45 483.2V487.5M336.77 483.2V487.5" stroke="#231f20" stroke-width="1.1" fill="none"/>
<text transform="translate(71.17 491.4) rotate(-90)" text-anchor="end" font-size="10.4" fill="#3a3a3a">Jan-12</text>
<text transform="translate(80.49 491.4) rotate(-90)" text-anchor="end" font-size="10.4" fill="#3a3a3a">May-12</text>
<text transform="translate(89.81 491.4) rotate(-90)" text-anchor="end" font-size="10.4" fill="#3a3a3a">Sep-12</text>
<text transform="translate(99.13 491.4) rotate(-90)" text-anchor="end" font-size="10.4" fill="#3a3a3a">Jan-13</text>
<text transform="translate(108.46 491.4) rotate(-90)" text-anchor="end" font-size="10.4" fill="#3a3a3a">May-13</text>
<text transform="translate(117.78 491.4) rotate(-90)" text-anchor="end" font-size="10.4" fill="#3a3a3a">Sep-13</text>
<text transform="translate(127.1 491.4) rotate(-90)" text-anchor="end" font-size="10.4" fill="#3a3a3a">Jan-14</text>
<text transform="translate(136.43 491.4) rotate(-90)" text-anchor="end" font-size="10.4" fill="#3a3a3a">May-14</text>
<text transform="translate(145.75 491.4) rotate(-90)" text-anchor="end" font-size="10.4" fill="#3a3a3a">Sep-14</text>
<text transform="translate(155.07 491.4) rotate(-90)" text-anchor="end" font-size="10.4" fill="#3a3a3a">Jan-15</text>
<text transform="translate(164.4 491.4) rotate(-90)" text-anchor="end" font-size="10.4" fill="#3a3a3a">May-15</text>
<text transform="translate(173.72 491.4) rotate(-90)" text-anchor="end" font-size="10.4" fill="#3a3a3a">Sep-15</text>
<text transform="translate(183.04 491.4) rotate(-90)" text-anchor="end" font-size="10.4" fill="#3a3a3a">Jan-16</text>
<text transform="translate(192.37 491.4) rotate(-90)" text-anchor="end" font-size="10.4" fill="#3a3a3a">May-16</text>
<text transform="translate(201.69 491.4) rotate(-90)" text-anchor="end" font-size="10.4" fill="#3a3a3a">Sep-16</text>
<text transform="translate(211.01 491.4) rotate(-90)" text-anchor="end" font-size="10.4" fill="#3a3a3a">Jan-17</text>
<text transform="translate(220.33 491.4) rotate(-90)" text-anchor="end" font-size="10.4" fill="#3a3a3a">May-17</text>
<text transform="translate(229.66 491.4) rotate(-90)" text-anchor="end" font-size="10.4" fill="#3a3a3a">Sep-17</text>
<text transform="translate(238.98 491.4) rotate(-90)" text-anchor="end" font-size="10.4" fill="#3a3a3a">Jan-18</text>
<text transform="translate(248.3 491.4) rotate(-90)" text-anchor="end" font-size="10.4" fill="#3a3a3a">May-18</text>
<text transform="translate(257.63 491.4) rotate(-90)" text-anchor="end" font-size="10.4" fill="#3a3a3a">Sep-18</text>
<text transform="translate(266.95 491.4) rotate(-90)" text-anchor="end" font-size="10.4" fill="#3a3a3a">Jan-19</text>
<text transform="translate(276.27 491.4) rotate(-90)" text-anchor="end" font-size="10.4" fill="#3a3a3a">May-19</text>
<text transform="translate(285.6 491.4) rotate(-90)" text-anchor="end" font-size="10.4" fill="#3a3a3a">Sep-19</text>
<text transform="translate(294.92 491.4) rotate(-90)" text-anchor="end" font-size="10.4" fill="#3a3a3a">Jan-20</text>
<text transform="translate(304.24 491.4) rotate(-90)" text-anchor="end" font-size="10.4" fill="#3a3a3a">May-20</text>
<text transform="translate(313.57 491.4) rotate(-90)" text-anchor="end" font-size="10.4" fill="#3a3a3a">Sep-20</text>
<text transform="translate(322.89 491.4) rotate(-90)" text-anchor="end" font-size="10.4" fill="#3a3a3a">Jan-21</text>
<text transform="translate(332.21 491.4) rotate(-90)" text-anchor="end" font-size="10.4" fill="#3a3a3a">May-21</text>
<text transform="translate(341.53 491.4) rotate(-90)" text-anchor="end" font-size="10.4" fill="#3a3a3a">Sep-21</text>
<g transform="translate(38.4 406.8) rotate(-90)"><text x="-49.16" y="0" font-size="11.1" fill="#333" xml:space="preserve">Price (</text><path d="M-19.44 -7.27L-14.78 -7.27M-19.44 -5.22L-14.78 -5.22M-18.44 -7.27C-15.44 -7.27 -15.44 -3.33 -18.99 -3.33L-15.44 0" fill="none" stroke="#333" stroke-width="0.83"/><text x="-14.33" y="0" font-size="11.1" fill="#333" xml:space="preserve"> per kilogram)</text></g>
<g transform="translate(374.8 407.2) rotate(-90)"><text x="-76.48" y="0" font-size="10.8" fill="#333" xml:space="preserve">Absolute Mark-up (</text><path d="M9.73 -7.07L14.27 -7.07M9.73 -5.08L14.27 -5.08M10.71 -7.07C13.62 -7.07 13.62 -3.24 10.17 -3.24L13.62 0" fill="none" stroke="#333" stroke-width="0.81"/><text x="14.7" y="0" font-size="10.8" fill="#333" xml:space="preserve"> per kilogram)</text></g>
<text x="585.1" y="318.6" text-anchor="middle" font-size="14.8" font-weight="bold" fill="#1f1a1c">d: Edible Oil</text>
<path d="M449.6 444.7C450.21 444.28 453.6 441.98 454.8 441.1C456 440.23 458.85 437.81 459.9 437.2C460.95 436.59 462.74 436.59 463.8 435.9C464.86 435.21 467.79 431.87 469 431.3C470.21 430.73 472.92 431.22 474.2 431C475.48 430.78 478.65 429.21 480 429.4C481.35 429.59 484.37 431.92 485.8 432.6C487.24 433.28 490.78 434.75 492.3 435.2C493.82 435.65 497.45 436.5 498.8 436.5C500.15 436.5 502.55 435.15 503.9 435.2C505.25 435.25 508.87 436.67 510.4 436.9C511.93 437.13 515.71 437.09 517 437.2C518.29 437.31 520.23 437.73 521.5 437.8C522.77 437.87 526.17 438.1 527.9 437.8C529.63 437.5 534.48 435.35 536.3 435.2C538.12 435.05 541.76 436.57 543.5 436.5C545.24 436.43 549.54 435.55 551.2 434.6C552.86 433.66 556.34 429.04 557.7 428.4C559.07 427.76 561.7 428.65 562.9 429.1C564.1 429.56 566.87 432.23 568 432.3C569.13 432.37 571.24 430.07 572.6 429.7C573.97 429.33 578.25 429.25 579.7 429.1C581.15 428.95 583.93 428.63 585 428.4C586.07 428.17 587.59 427.08 588.9 427.1C590.21 427.12 594.16 428.01 596.2 428.6C598.24 429.19 604.01 431.98 606.4 432.2C608.79 432.42 614.31 430.64 616.7 430.5C619.09 430.36 624.51 431.14 626.9 431C629.29 430.86 635.15 429.67 637.2 429.3C639.25 428.93 642.66 428.1 644.5 427.8C646.34 427.5 650.98 426.84 653 426.7C655.02 426.56 659.72 427.25 661.8 426.6C663.88 425.95 669.21 422.29 670.8 421.1C672.39 419.91 674.55 416.82 675.4 416.4C676.25 415.98 677.37 417.85 678.1 417.5C678.84 417.15 680.44 414.37 681.7 413.4C682.96 412.43 687.22 410.74 688.9 409.2C690.58 407.66 694.63 403.18 696.1 400.2C697.57 397.22 700.52 386.17 701.5 383.7C702.48 381.23 703.38 382.69 704.5 379C705.62 375.31 710.06 355.73 711.1 352.1C712.14 348.47 712.78 348.25 713.4 347.9C714.02 347.55 715.49 349.8 716.4 349.1C717.31 348.4 720.64 342.74 721.2 341.9" fill="none" stroke="#e6772f" stroke-width="1.55" stroke-linejoin="round" stroke-linecap="round"/>
<path d="M449.6 452C450.21 451.51 453.6 448.63 454.8 447.8C456 446.97 458.85 445.35 459.9 444.9C460.95 444.44 462.74 444.58 463.8 443.9C464.86 443.22 467.79 439.56 469 439.1C470.21 438.65 472.92 440.2 474.2 440C475.48 439.8 478.65 437.35 480 437.4C481.35 437.45 484.37 439.64 485.8 440.4C487.24 441.16 490.78 443.55 492.3 443.9C493.82 444.25 497.45 443.4 498.8 443.4C500.15 443.4 502.55 443.69 503.9 443.9C505.25 444.11 508.87 444.9 510.4 445.2C511.93 445.5 515.71 446.35 517 446.5C518.29 446.65 520.08 446.38 521.5 446.5C522.92 446.62 527.47 447.65 529.2 447.5C530.93 447.35 534.63 445.57 536.3 445.2C537.97 444.83 541.68 444.56 543.5 444.3C545.32 444.04 550.09 443.68 551.9 443C553.71 442.32 557.65 438.95 559 438.5C560.35 438.05 562.37 438.8 563.5 439.1C564.63 439.4 567.42 441.15 568.7 441.1C569.98 441.05 573.22 439.15 574.5 438.7C575.78 438.25 578.48 437.26 579.7 437.2C580.93 437.14 583.93 438.19 585 438.2C586.07 438.21 587.59 437.28 588.9 437.3C590.21 437.32 594.16 437.79 596.2 438.4C598.24 439.01 604.01 442.28 606.4 442.5C608.79 442.72 614.31 440.62 616.7 440.3C619.09 439.99 624.51 439.93 626.9 439.8C629.29 439.67 635.15 439.43 637.2 439.2C639.25 438.97 642.66 438.1 644.5 437.8C646.34 437.5 650.98 436.82 653 436.6C655.02 436.38 659.72 436.51 661.8 435.9C663.88 435.29 669.11 432.48 670.8 431.4C672.49 430.31 675.24 427.16 676.3 426.6C677.36 426.04 678.64 427.2 679.9 426.6C681.16 426 685.42 422.73 687.1 421.5C688.78 420.27 692.62 418.73 694.3 416.1C695.98 413.48 700.22 402.43 701.5 399C702.78 395.57 704.31 390.82 705.3 386.7C706.29 382.58 709.1 366.81 710 363.7C710.9 360.58 712.25 360.2 713 360C713.75 359.8 715.44 362.64 716.4 362C717.36 361.36 720.64 355.38 721.2 354.5" fill="none" stroke="#10a74f" stroke-width="1.55" stroke-linejoin="round" stroke-linecap="round"/>
<path d="M450.36 483.2V461.1h1.0V483.2zM452.68 483.2V452.7h1.0V483.2zM455.01 483.2V464.3h1.0V483.2zM457.33 483.2V469.3h1.0V483.2zM459.65 483.2V465h1.0V483.2zM461.97 483.2V463h1.0V483.2zM464.29 483.2V464.3h1.0V483.2zM466.62 483.2V461.1h1.0V483.2zM468.94 483.2V461.8h1.0V483.2zM471.26 483.2V443.9h1.0V483.2zM473.58 483.2V447.3h1.0V483.2zM475.91 483.2V447.8h1.0V483.2zM478.23 483.2V448.6h1.0V483.2zM480.55 483.2V454h1.0V483.2zM482.87 483.2V441.7h1.0V483.2zM485.19 483.2V428.1h1.0V483.2zM487.52 483.2V437.8h1.0V483.2zM489.84 483.2V434.6h1.0V483.2zM492.16 483.2V430.4h1.0V483.2zM494.48 483.2V439.1h1.0V483.2zM496.81 483.2V456.6h1.0V483.2zM499.13 483.2V455.9h1.0V483.2zM501.45 483.2V447.5h1.0V483.2zM503.77 483.2V444.9h1.0V483.2zM506.09 483.2V441.7h1.0V483.2zM508.42 483.2V449.5h1.0V483.2zM510.74 483.2V446.5h1.0V483.2zM513.06 483.2V439.1h1.0V483.2zM515.38 483.2V436.8h1.0V483.2zM517.71 483.2V440.4h1.0V483.2zM520.03 483.2V433h1.0V483.2zM522.35 483.2V439.8h1.0V483.2zM524.67 483.2V432.3h1.0V483.2zM526.99 483.2V435.2h1.0V483.2zM529.32 483.2V436.5h1.0V483.2zM531.64 483.2V432h1.0V483.2zM533.96 483.2V434.3h1.0V483.2zM536.28 483.2V436.9h1.0V483.2zM538.61 483.2V445.6h1.0V483.2zM540.93 483.2V447.3h1.0V483.2zM543.25 483.2V451.1h1.0V483.2zM545.57 483.2V453.3h1.0V483.2zM547.89 483.2V453.3h1.0V483.2zM550.22 483.2V448.8h1.0V483.2zM552.54 483.2V440.4h1.0V483.2zM554.86 483.2V449.5h1.0V483.2zM557.18 483.2V427.1h1.0V483.2zM559.51 483.2V429.1h1.0V483.2zM561.83 483.2V434.6h1.0V483.2zM564.15 483.2V431.7h1.0V483.2zM566.47 483.2V438.2h1.0V483.2zM568.79 483.2V442.1h1.0V483.2zM571.12 483.2V429.1h1.0V483.2zM573.44 483.2V430.4h1.0V483.2zM575.76 483.2V444.3h1.0V483.2zM578.08 483.2V439.5h1.0V483.2zM580.41 483.2V438.7h1.0V483.2zM582.73 483.2V429.7h1.0V483.2zM585.05 483.2V429h1.0V483.2zM587.37 483.2V417.9h1.0V483.2zM589.69 483.2V418.3h1.0V483.2zM592.02 483.2V415.8h1.0V483.2zM594.34 483.2V421.2h1.0V483.2zM596.66 483.2V424.6h1.0V483.2zM598.98 483.2V422h1.0V483.2zM601.31 483.2V424.9h1.0V483.2zM603.63 483.2V412.9h1.0V483.2zM605.95 483.2V415.8h1.0V483.2zM608.27 483.2V427.1h1.0V483.2zM610.59 483.2V423.4h1.0V483.2zM612.92 483.2V427.5h1.0V483.2zM615.24 483.2V429h1.0V483.2zM617.56 483.2V429.3h1.0V483.2zM619.88 483.2V426.7h1.0V483.2zM622.21 483.2V427.5h1.0V483.2zM624.53 483.2V431h1.0V483.2zM626.85 483.2V431.5h1.0V483.2zM629.17 483.2V434.9h1.0V483.2zM631.49 483.2V434.9h1.0V483.2zM633.82 483.2V435.9h1.0V483.2zM636.14 483.2V434h1.0V483.2zM638.46 483.2V427.5h1.0V483.2zM640.78 483.2V427.1h1.0V483.2zM643.11 483.2V425.6h1.0V483.2zM645.43 483.2V419h1.0V483.2zM647.75 483.2V419.3h1.0V483.2zM650.07 483.2V418.7h1.0V483.2zM652.39 483.2V422.9h1.0V483.2zM654.72 483.2V422.4h1.0V483.2zM657.04 483.2V413.9h1.0V483.2zM659.36 483.2V419.3h1.0V483.2zM661.68 483.2V428.7h1.0V483.2zM664.01 483.2V430.9h1.0V483.2zM666.33 483.2V424.2h1.0V483.2zM668.65 483.2V423.3h1.0V483.2zM670.97 483.2V423.3h1.0V483.2zM673.29 483.2V417h1.0V483.2zM675.62 483.2V418.3h1.0V483.2zM677.94 483.2V423.3h1.0V483.2zM680.26 483.2V414.3h1.0V483.2zM682.58 483.2V408h1.0V483.2zM684.91 483.2V413.4h1.0V483.2zM687.23 483.2V413.4h1.0V483.2zM689.55 483.2V413.4h1.0V483.2zM691.87 483.2V412.1h1.0V483.2zM694.19 483.2V407.1h1.0V483.2zM696.52 483.2V406.7h1.0V483.2zM698.84 483.2V408.5h1.0V483.2zM708.13 483.2V391.9h1.0V483.2zM710.45 483.2V390.3h1.0V483.2zM712.77 483.2V380.1h1.0V483.2zM715.09 483.2V376h1.0V483.2zM717.42 483.2V380.1h1.0V483.2zM719.74 483.2V383.1h1.0V483.2z" fill="#4b5cad"/>
<path d="M449.7 333.4V483.2H721.4V333.4" fill="none" stroke="#231f20" stroke-width="1.1"/>
<text transform="translate(442.9 488.1) scale(0.88 1)" text-anchor="end" font-size="11.6" fill="#3a3a3a">60</text>
<text transform="translate(442.9 463.13) scale(0.88 1)" text-anchor="end" font-size="11.6" fill="#3a3a3a">80</text>
<text transform="translate(442.9 438.17) scale(0.88 1)" text-anchor="end" font-size="11.6" fill="#3a3a3a">100</text>
<text transform="translate(442.9 413.2) scale(0.88 1)" text-anchor="end" font-size="11.6" fill="#3a3a3a">120</text>
<text transform="translate(442.9 388.23) scale(0.88 1)" text-anchor="end" font-size="11.6" fill="#3a3a3a">140</text>
<text transform="translate(442.9 363.27) scale(0.88 1)" text-anchor="end" font-size="11.6" fill="#3a3a3a">160</text>
<text transform="translate(442.9 338.3) scale(0.88 1)" text-anchor="end" font-size="11.6" fill="#3a3a3a">180</text>
<text transform="translate(727.7 488.1) scale(0.88 1)" font-size="11.6" fill="#3a3a3a">5.0</text>
<text transform="translate(727.7 466.7) scale(0.88 1)" font-size="11.6" fill="#3a3a3a">6.0</text>
<text transform="translate(727.7 445.3) scale(0.88 1)" font-size="11.6" fill="#3a3a3a">7.0</text>
<text transform="translate(727.7 423.9) scale(0.88 1)" font-size="11.6" fill="#3a3a3a">8.0</text>
<text transform="translate(727.7 402.5) scale(0.88 1)" font-size="11.6" fill="#3a3a3a">9.0</text>
<text transform="translate(727.7 381.1) scale(0.88 1)" font-size="11.6" fill="#3a3a3a">10.0</text>
<text transform="translate(727.7 359.7) scale(0.88 1)" font-size="11.6" fill="#3a3a3a">11.0</text>
<text transform="translate(727.7 338.3) scale(0.88 1)" font-size="11.6" fill="#3a3a3a">12.0</text>
<path d="M446.4 483.2H449.7M446.4 458.23H449.7M446.4 433.27H449.7M446.4 408.3H449.7M446.4 383.33H449.7M446.4 358.37H449.7M446.4 333.4H449.7M721.4 483.2H724.6999999999999M721.4 461.8H724.6999999999999M721.4 440.4H724.6999999999999M721.4 419H724.6999999999999M721.4 397.6H724.6999999999999M721.4 376.2H724.6999999999999M721.4 354.8H724.6999999999999M721.4 333.4H724.6999999999999M449.7 483.2V487.5M458.99 483.2V487.5M468.28 483.2V487.5M477.57 483.2V487.5M486.86 483.2V487.5M496.14 483.2V487.5M505.43 483.2V487.5M514.72 483.2V487.5M524.01 483.2V487.5M533.3 483.2V487.5M542.59 483.2V487.5M551.88 483.2V487.5M561.17 483.2V487.5M570.46 483.2V487.5M579.74 483.2V487.5M589.03 483.2V487.5M598.32 483.2V487.5M607.61 483.2V487.5M616.9 483.2V487.5M626.19 483.2V487.5M635.48 483.2V487.5M644.77 483.2V487.5M654.06 483.2V487.5M663.34 483.2V487.5M672.63 483.2V487.5M681.92 483.2V487.5M691.21 483.2V487.5M700.5 483.2V487.5M709.79 483.2V487.5M719.08 483.2V487.5" stroke="#231f20" stroke-width="1.1" fill="none"/>
<text transform="translate(454.46 491.4) rotate(-90)" text-anchor="end" font-size="10.4" fill="#3a3a3a">Jan-12</text>
<text transform="translate(463.75 491.4) rotate(-90)" text-anchor="end" font-size="10.4" fill="#3a3a3a">May-12</text>
<text transform="translate(473.04 491.4) rotate(-90)" text-anchor="end" font-size="10.4" fill="#3a3a3a">Sep-12</text>
<text transform="translate(482.33 491.4) rotate(-90)" text-anchor="end" font-size="10.4" fill="#3a3a3a">Jan-13</text>
<text transform="translate(491.62 491.4) rotate(-90)" text-anchor="end" font-size="10.4" fill="#3a3a3a">May-13</text>
<text transform="translate(500.91 491.4) rotate(-90)" text-anchor="end" font-size="10.4" fill="#3a3a3a">Sep-13</text>
<text transform="translate(510.19 491.4) rotate(-90)" text-anchor="end" font-size="10.4" fill="#3a3a3a">Jan-14</text>
<text transform="translate(519.48 491.4) rotate(-90)" text-anchor="end" font-size="10.4" fill="#3a3a3a">May-14</text>
<text transform="translate(528.77 491.4) rotate(-90)" text-anchor="end" font-size="10.4" fill="#3a3a3a">Sep-14</text>
<text transform="translate(538.06 491.4) rotate(-90)" text-anchor="end" font-size="10.4" fill="#3a3a3a">Jan-15</text>
<text transform="translate(547.35 491.4) rotate(-90)" text-anchor="end" font-size="10.4" fill="#3a3a3a">May-15</text>
<text transform="translate(556.64 491.4) rotate(-90)" text-anchor="end" font-size="10.4" fill="#3a3a3a">Sep-15</text>
<text transform="translate(565.93 491.4) rotate(-90)" text-anchor="end" font-size="10.4" fill="#3a3a3a">Jan-16</text>
<text transform="translate(575.22 491.4) rotate(-90)" text-anchor="end" font-size="10.4" fill="#3a3a3a">May-16</text>
<text transform="translate(584.51 491.4) rotate(-90)" text-anchor="end" font-size="10.4" fill="#3a3a3a">Sep-16</text>
<text transform="translate(593.79 491.4) rotate(-90)" text-anchor="end" font-size="10.4" fill="#3a3a3a">Jan-17</text>
<text transform="translate(603.08 491.4) rotate(-90)" text-anchor="end" font-size="10.4" fill="#3a3a3a">May-17</text>
<text transform="translate(612.37 491.4) rotate(-90)" text-anchor="end" font-size="10.4" fill="#3a3a3a">Sep-17</text>
<text transform="translate(621.66 491.4) rotate(-90)" text-anchor="end" font-size="10.4" fill="#3a3a3a">Jan-18</text>
<text transform="translate(630.95 491.4) rotate(-90)" text-anchor="end" font-size="10.4" fill="#3a3a3a">May-18</text>
<text transform="translate(640.24 491.4) rotate(-90)" text-anchor="end" font-size="10.4" fill="#3a3a3a">Sep-18</text>
<text transform="translate(649.53 491.4) rotate(-90)" text-anchor="end" font-size="10.4" fill="#3a3a3a">Jan-19</text>
<text transform="translate(658.82 491.4) rotate(-90)" text-anchor="end" font-size="10.4" fill="#3a3a3a">May-19</text>
<text transform="translate(668.11 491.4) rotate(-90)" text-anchor="end" font-size="10.4" fill="#3a3a3a">Sep-19</text>
<text transform="translate(677.39 491.4) rotate(-90)" text-anchor="end" font-size="10.4" fill="#3a3a3a">Jan-20</text>
<text transform="translate(686.68 491.4) rotate(-90)" text-anchor="end" font-size="10.4" fill="#3a3a3a">May-20</text>
<text transform="translate(695.97 491.4) rotate(-90)" text-anchor="end" font-size="10.4" fill="#3a3a3a">Sep-20</text>
<text transform="translate(705.26 491.4) rotate(-90)" text-anchor="end" font-size="10.4" fill="#3a3a3a">Jan-21</text>
<text transform="translate(714.55 491.4) rotate(-90)" text-anchor="end" font-size="10.4" fill="#3a3a3a">May-21</text>
<text transform="translate(723.84 491.4) rotate(-90)" text-anchor="end" font-size="10.4" fill="#3a3a3a">Sep-21</text>
<g transform="translate(417.6 407.2) rotate(-90)"><text x="-49.16" y="0" font-size="11.1" fill="#333" xml:space="preserve">Price (</text><path d="M-19.44 -7.27L-14.78 -7.27M-19.44 -5.22L-14.78 -5.22M-18.44 -7.27C-15.44 -7.27 -15.44 -3.33 -18.99 -3.33L-15.44 0" fill="none" stroke="#333" stroke-width="0.83"/><text x="-14.33" y="0" font-size="11.1" fill="#333" xml:space="preserve"> per kilogram)</text></g>
<g transform="translate(759.8 408) rotate(-90)"><text x="-76.48" y="0" font-size="10.8" fill="#333" xml:space="preserve">Absolute Mark-up (</text><path d="M9.73 -7.07L14.27 -7.07M9.73 -5.08L14.27 -5.08M10.71 -7.07C13.62 -7.07 13.62 -3.24 10.17 -3.24L13.62 0" fill="none" stroke="#333" stroke-width="0.81"/><text x="14.7" y="0" font-size="10.8" fill="#333" xml:space="preserve"> per kilogram)</text></g>
<rect x="232" y="547" width="30" height="5.7" fill="#4b5cad"/>
<text x="265" y="553.3" font-size="10.85" fill="#231f20">Margin (right scale)</text>
<rect x="360" y="549" width="32" height="2" fill="#e6772f"/>
<text x="394" y="553.3" font-size="10.85" fill="#231f20">Retail Price</text>
<rect x="454" y="549" width="30" height="2" fill="#10a74f"/>
<text x="487" y="553.3" font-size="10.85" fill="#231f20">Wholesale Price</text>
<text x="15.5" y="571.8" font-size="11.0" fill="#231f20"><tspan font-weight="bold" font-size="10">Sources:</tspan> Department of Consumer Affairs, Ministry of Consumer Affairs, Food and Public Distribution; and RBI staff estimates.</text>
</svg></body></html>
